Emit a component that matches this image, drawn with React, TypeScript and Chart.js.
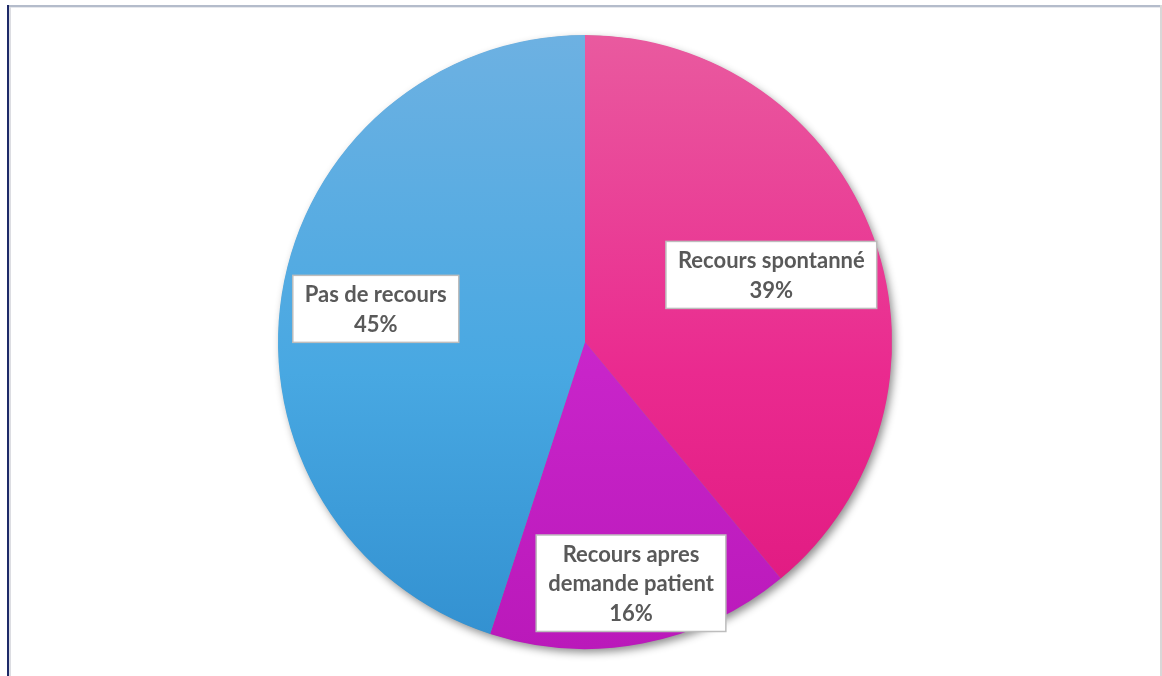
import React, { useEffect, useRef } from "react";
import { Chart, registerables } from "chart.js";

Chart.register(...registerables);

const categories = ["Recours spontanné", "Recours apres demande patient", "Pas de recours"];
const values = [39, 16, 45];
const labelLines = [
  ["Recours spontanné", "39%"],
  ["Recours apres", "demande patient", "16%"],
  ["Pas de recours", "45%"],
];
const gradientTop = ["#E95A9F", "#D43FD6", "#6DB1E2"];
const gradientMid = ["#EA2A8F", "#C824C9", "#48A8E2"];
const gradientBottom = ["#DF177F", "#BA19BA", "#3290D0"];
const labelRadiusFrac = [0.645, 0.8, 0.69];

const shadowPlugin = {
  id: "pieShadow",
  beforeDatasetsDraw(chart: any) {
    const arc = chart.getDatasetMeta(0).data[0];
    if (!arc) return;
    const ctx = chart.ctx;
    ctx.save();
    ctx.shadowColor = "rgba(0,0,0,0.45)";
    ctx.shadowBlur = 9;
    ctx.shadowOffsetX = 3;
    ctx.shadowOffsetY = 4;
    ctx.fillStyle = "#888";
    ctx.beginPath();
    ctx.arc(arc.x, arc.y, arc.outerRadius - 0.5, 0, Math.PI * 2);
    ctx.fill();
    ctx.restore();
  },
};

const framePlugin = {
  id: "frame",
  beforeDraw(chart: any) {
    const ctx = chart.ctx;
    const w = chart.width;
    const h = chart.height;
    ctx.save();
    ctx.fillStyle = "#fff";
    ctx.fillRect(0, 0, w, h);
    ctx.fillStyle = "#b4bccb";
    ctx.fillRect(7, 5, w - 7, 2);
    ctx.fillStyle = "#e6e8ed";
    ctx.fillRect(9, 7, w - 9, 1);
    ctx.fillStyle = "#d8d8d8";
    ctx.fillRect(w - 2, 5, 2, h - 5);
    ctx.fillStyle = "#1d2a68";
    ctx.fillRect(7, 5, 2, h - 5);
    ctx.fillStyle = "#dcdde2";
    ctx.fillRect(9, 7, 2, h - 7);
    ctx.restore();
  },
};

const labelPlugin = {
  id: "boxLabels",
  afterDatasetsDraw(chart: any) {
    const meta = chart.getDatasetMeta(0);
    const ctx = chart.ctx;
    ctx.save();
    ctx.font = "bold 22px Lato, 'Open Sans', sans-serif";
    ctx.textAlign = "center";
    ctx.textBaseline = "middle";
    const lineH = 29.5;
    meta.data.forEach((arc: any, i: number) => {
      const mid = (arc.startAngle + arc.endAngle) / 2;
      const r = arc.outerRadius * labelRadiusFrac[i];
      const cx = arc.x + Math.cos(mid) * r;
      const cy = arc.y + Math.sin(mid) * r;
      const lines = labelLines[i];
      const tw = Math.max(...lines.map((l) => ctx.measureText(l).width));
      const bw = tw + 24;
      const bh = lines.length * lineH + 8;
      const bx = cx - bw / 2;
      const by = cy - bh / 2;
      ctx.fillStyle = "#ffffff";
      ctx.fillRect(bx, by, bw, bh);
      ctx.strokeStyle = "#bdbdbd";
      ctx.lineWidth = 1.5;
      ctx.strokeRect(bx, by, bw, bh);
      ctx.fillStyle = "#595959";
      lines.forEach((l, k) => {
        ctx.fillText(l, cx, by + 4 + lineH * (k + 0.5) + 1);
      });
    });
    ctx.restore();
  },
};

export default function App() {
  const ref = useRef<HTMLCanvasElement | null>(null);
  useEffect(() => {
    if (!ref.current) return;
    const chart = new Chart(ref.current, {
      type: "pie",
      data: {
        labels: categories,
        datasets: [
          {
            data: values,
            borderWidth: 0,
            backgroundColor: (c: any) => {
              const ch = c.chart;
              const area = ch.chartArea;
              if (!area) return gradientTop[c.dataIndex];
              const g = ch.ctx.createLinearGradient(0, area.top, 0, area.bottom);
              g.addColorStop(0, gradientTop[c.dataIndex]);
              g.addColorStop(0.55, gradientMid[c.dataIndex]);
              g.addColorStop(1, gradientBottom[c.dataIndex]);
              return g;
            },
          },
        ],
      },
      options: {
        responsive: false,
        animation: false,
        layout: { padding: { left: 278, right: 270, top: 35, bottom: 27 } },
        plugins: {
          legend: { display: false },
          tooltip: { enabled: false },
          title: { display: false },
        },
      },
      plugins: [framePlugin, shadowPlugin, labelPlugin],
    });
    return () => chart.destroy();
  }, []);
  return (
    <div style={{ position: "fixed", left: 0, top: 0, width: 1162, height: 676, background: "#fff" }}>
      <canvas ref={ref} width={1162} height={676} style={{ width: 1162, height: 676 }} />
    </div>
  );
}
